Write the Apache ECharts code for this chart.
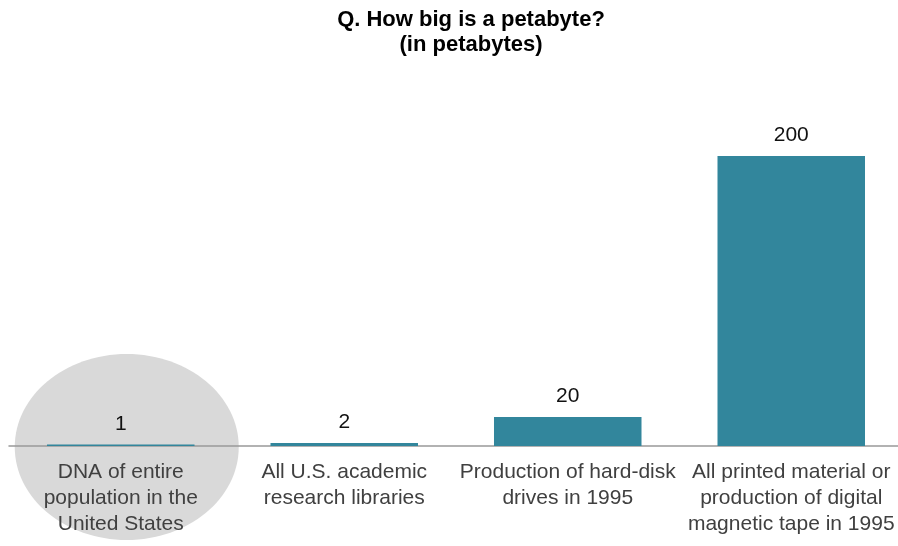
<!DOCTYPE html>
<html>
<head>
<meta charset="utf-8">
<script src="https://cdn.jsdelivr.net/npm/echarts@6/dist/echarts.min.js"></script>
<style>
  html, body { margin: 0; padding: 0; background: #fff; overflow: hidden; }
  #main { width: 904px; height: 546px; }
</style>
</head>
<body>
<div id="main"></div>
<script>
const categories = [
  'DNA of entire\npopulation in the\nUnited States',
  'All U.S. academic\nresearch libraries',
  'Production of hard-disk\ndrives in 1995',
  'All printed material or\nproduction of digital\nmagnetic tape in 1995'
]
const values = [1, 2, 20, 200]

const fontFamily = 'Liberation Sans, Arial, sans-serif'
const chart = echarts.init(document.getElementById('main'))

const option = {
  backgroundColor: '#fff',
  animation: false,
  title: {
    text: 'Q. How big is a petabyte?\n(in petabytes)',
    left: 466,
    textAlign: 'center',
    top: 2,
    textStyle: {
      fontFamily: fontFamily,
      fontWeight: 'bold',
      fontSize: 22,
      lineHeight: 25,
      color: '#000'
    }
  },
  grid: {
    left: 9,
    width: 894,
    top: 156,
    bottom: 100,
    containLabel: false
  },
  xAxis: {
    type: 'category',
    data: categories,
    axisTick: { show: false },
    axisLine: { lineStyle: { color: '#999', width: 1.5 } },
    axisLabel: {
      interval: 0,
      margin: 13,
      fontFamily: fontFamily,
      fontSize: 21,
      lineHeight: 26,
      color: '#404040'
    }
  },
  yAxis: {
    type: 'value',
    min: 0,
    max: 200,
    show: false,
    splitLine: { show: false }
  },
  series: [{
    type: 'bar',
    data: values,
    barWidth: '66%',
    z: 5,
    itemStyle: { color: '#32869C' },
    label: {
      show: true,
      position: 'top',
      distance: 10,
      fontFamily: fontFamily,
      fontSize: 21,
      color: '#111'
    }
  }]
}

chart.setOption(option)

// grey ellipse highlighting the first category
const c0 = chart.convertToPixel({ xAxisIndex: 0 }, categories[0])
const base = chart.convertToPixel({ yAxisIndex: 0 }, 0)
chart.setOption({
  graphic: [{
    type: 'ellipse',
    z: -10,
    silent: true,
    shape: { cx: c0 + 6, cy: base + 1, rx: 112, ry: 93 },
    style: { fill: '#D9D9D9' }
  }]
})
</script>
</body>
</html>
